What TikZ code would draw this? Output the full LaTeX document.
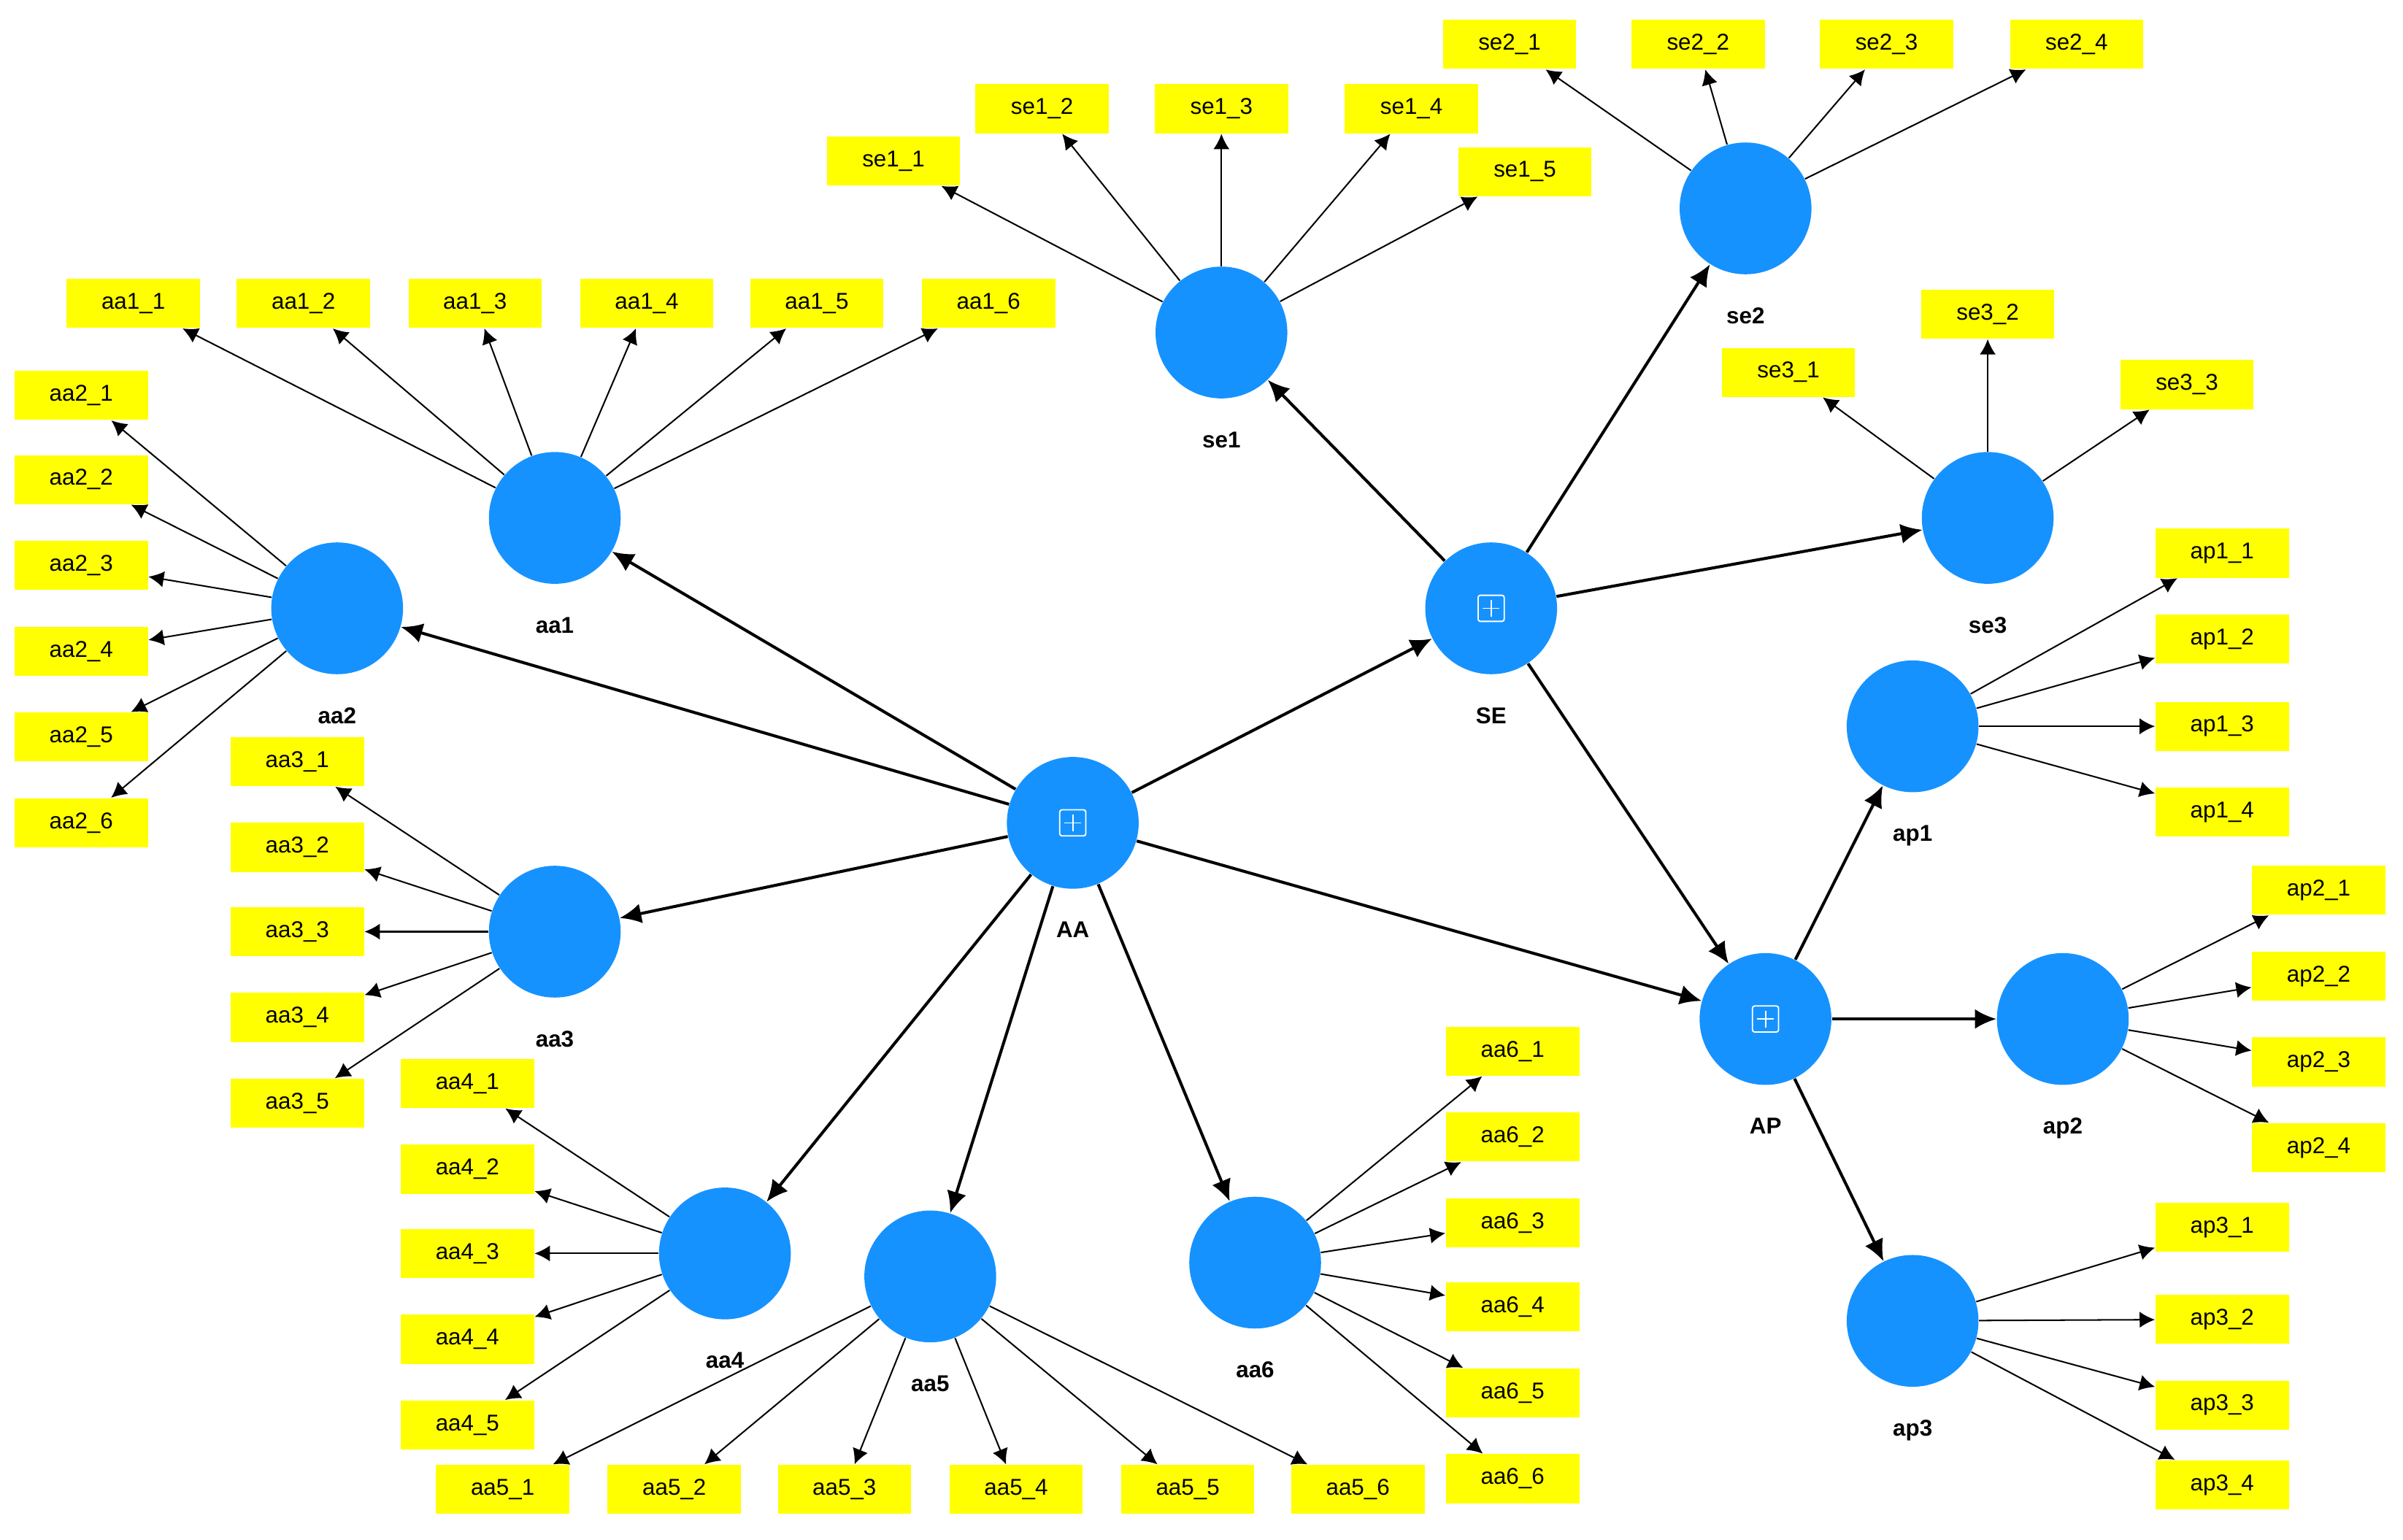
\documentclass[tikz,border=0pt]{standalone}
\usepackage{fontspec}
\setmainfont{Liberation Sans}
\usetikzlibrary{arrows.meta,positioning,calc}
\definecolor{LVblue}{RGB}{22,146,255}
\definecolor{MVyellow}{RGB}{255,255,0}
\tikzstyle{Blv}   = [circle, fill=LVblue, minimum size=1.72cm, inner sep=0pt]
\tikzstyle{Bname} = [inner sep=0pt, font=\fontsize{8.5}{10}\selectfont\bfseries]
\tikzstyle{Bmv}   = [rectangle, fill=MVyellow, minimum width=1.74cm,
                     minimum height=0.64cm, inner sep=0pt,
                     font=\fontsize{8.5}{10}\selectfont]
\tikzstyle{Bpath} = [-{Latex[length=2.8mm,width=2.6mm]}, line width=1.1pt]
\tikzstyle{Bload} = [-{Latex[length=2mm,width=2.1mm]}, line width=0.55pt]
\newcommand{\plusbox}[1]{%
  \draw[white, line width=0.5pt, rounded corners=0.8pt]
    ($(#1)+(-0.17cm,-0.17cm)$) rectangle ($(#1)+(0.17cm,0.17cm)$);
  \draw[white, line width=0.5pt]
    ($(#1)+(-0.11cm,0)$) -- ($(#1)+(0.11cm,0)$)
    ($(#1)+(0,-0.11cm)$) -- ($(#1)+(0,0.11cm)$);}

\begin{document}
\begin{tikzpicture}[x=0.2mm, y=-0.2mm]
  \useasboundingbox (0,0) rectangle (1568,1005);

  % latent variables
  \node[Blv] (AA)  at (700,537) {};
  \node[Blv] (SE)  at (973,397) {};
  \node[Blv] (AP)  at (1152,665) {};
  \node[Blv] (se1) at (797,217) {};
  \node[Blv] (se2) at (1139,136) {};
  \node[Blv] (se3) at (1297,338) {};
  \node[Blv] (aa1) at (362,338) {};
  \node[Blv] (aa2) at (220,397) {};
  \node[Blv] (aa3) at (362,608) {};
  \node[Blv] (aa4) at (473,818) {};
  \node[Blv] (aa5) at (607,833) {};
  \node[Blv] (aa6) at (819,824) {};
  \node[Blv] (ap1) at (1248,474) {};
  \node[Blv] (ap2) at (1346,665) {};
  \node[Blv] (ap3) at (1248,862) {};
  \plusbox{AA} \plusbox{SE} \plusbox{AP}

  \node[Bname, below=0.42cm of AA]  (AAn)  {AA};
  \node[Bname, below=0.42cm of SE]  (SEn)  {SE};
  \node[Bname, below=0.42cm of AP]  (APn)  {AP};
  \node[Bname, below=0.42cm of se1] (se1n) {se1};
  \node[Bname, below=0.42cm of se2] (se2n) {se2};
  \node[Bname, below=0.42cm of se3] (se3n) {se3};
  \node[Bname, below=0.42cm of aa1] (aa1n) {aa1};
  \node[Bname, below=0.42cm of aa2] (aa2n) {aa2};
  \node[Bname, below=0.42cm of aa3] (aa3n) {aa3};
  \node[Bname, below=0.42cm of aa4] (aa4n) {aa4};
  \node[Bname, below=0.42cm of aa5] (aa5n) {aa5};
  \node[Bname, below=0.42cm of aa6] (aa6n) {aa6};
  \node[Bname, below=0.42cm of ap1] (ap1n) {ap1};
  \node[Bname, below=0.42cm of ap2] (ap2n) {ap2};
  \node[Bname, below=0.42cm of ap3] (ap3n) {ap3};

  % indicators
  \node[Bmv] (se11) at (583,105) {se1\_1};
  \node[Bmv] (se12) at (680,71)  {se1\_2};
  \node[Bmv] (se13) at (797,71)  {se1\_3};
  \node[Bmv] (se14) at (921,71)  {se1\_4};
  \node[Bmv] (se15) at (995,112) {se1\_5};
  \node[Bmv] (se21) at (985,29)  {se2\_1};
  \node[Bmv] (se22) at (1108,29) {se2\_2};
  \node[Bmv] (se23) at (1231,29) {se2\_3};
  \node[Bmv] (se24) at (1355,29) {se2\_4};
  \node[Bmv] (se31) at (1167,243) {se3\_1};
  \node[Bmv] (se32) at (1297,205) {se3\_2};
  \node[Bmv] (se33) at (1427,251) {se3\_3};
  \node[Bmv] (aa11) at (87,198)  {aa1\_1};
  \node[Bmv] (aa12) at (198,198) {aa1\_2};
  \node[Bmv] (aa13) at (310,198) {aa1\_3};
  \node[Bmv] (aa14) at (422,198) {aa1\_4};
  \node[Bmv] (aa15) at (533,198) {aa1\_5};
  \node[Bmv] (aa16) at (645,198) {aa1\_6};
  \node[Bmv] (aa21) at (53,258) {aa2\_1};
  \node[Bmv] (aa22) at (53,313) {aa2\_2};
  \node[Bmv] (aa23) at (53,369) {aa2\_3};
  \node[Bmv] (aa24) at (53,425) {aa2\_4};
  \node[Bmv] (aa25) at (53,481) {aa2\_5};
  \node[Bmv] (aa26) at (53,537) {aa2\_6};
  \node[Bmv] (aa31) at (194,497) {aa3\_1};
  \node[Bmv] (aa32) at (194,553) {aa3\_2};
  \node[Bmv] (aa33) at (194,608) {aa3\_3};
  \node[Bmv] (aa34) at (194,664) {aa3\_4};
  \node[Bmv] (aa35) at (194,720) {aa3\_5};
  \node[Bmv] (aa41) at (305,707) {aa4\_1};
  \node[Bmv] (aa42) at (305,763) {aa4\_2};
  \node[Bmv] (aa43) at (305,818) {aa4\_3};
  \node[Bmv] (aa44) at (305,874) {aa4\_4};
  \node[Bmv] (aa45) at (305,930) {aa4\_5};
  \node[Bmv] (aa51) at (328,972) {aa5\_1};
  \node[Bmv] (aa52) at (440,972) {aa5\_2};
  \node[Bmv] (aa53) at (551,972) {aa5\_3};
  \node[Bmv] (aa54) at (663,972) {aa5\_4};
  \node[Bmv] (aa55) at (775,972) {aa5\_5};
  \node[Bmv] (aa56) at (886,972) {aa5\_6};
  \node[Bmv] (aa61) at (987,686) {aa6\_1};
  \node[Bmv] (aa62) at (987,742) {aa6\_2};
  \node[Bmv] (aa63) at (987,798) {aa6\_3};
  \node[Bmv] (aa64) at (987,853) {aa6\_4};
  \node[Bmv] (aa65) at (987,909) {aa6\_5};
  \node[Bmv] (aa66) at (987,965) {aa6\_6};
  \node[Bmv] (ap11) at (1450,361) {ap1\_1};
  \node[Bmv] (ap12) at (1450,417) {ap1\_2};
  \node[Bmv] (ap13) at (1450,474) {ap1\_3};
  \node[Bmv] (ap14) at (1450,530) {ap1\_4};
  \node[Bmv] (ap21) at (1513,581) {ap2\_1};
  \node[Bmv] (ap22) at (1513,637) {ap2\_2};
  \node[Bmv] (ap23) at (1513,693) {ap2\_3};
  \node[Bmv] (ap24) at (1513,749) {ap2\_4};
  \node[Bmv] (ap31) at (1450,801) {ap3\_1};
  \node[Bmv] (ap32) at (1450,861) {ap3\_2};
  \node[Bmv] (ap33) at (1450,917) {ap3\_3};
  \node[Bmv] (ap34) at (1450,969) {ap3\_4};

  % structural paths
  \draw[Bpath] (AA) -- (aa1);
  \draw[Bpath] (AA) -- (aa2);
  \draw[Bpath] (AA) -- (aa3);
  \draw[Bpath] (AA) -- (aa4);
  \draw[Bpath] (AA) -- (aa5);
  \draw[Bpath] (AA) -- (aa6);
  \draw[Bpath] (AA) -- (SE);
  \draw[Bpath] (AA) -- (AP);
  \draw[Bpath] (SE) -- (se1);
  \draw[Bpath] (SE) -- (se2);
  \draw[Bpath] (SE) -- (se3);
  \draw[Bpath] (SE) -- (AP);
  \draw[Bpath] (AP) -- (ap1);
  \draw[Bpath] (AP) -- (ap2);
  \draw[Bpath] (AP) -- (ap3);

  % loadings
  \draw[Bload] (se1) -- (se11);
  \draw[Bload] (se1) -- (se12);
  \draw[Bload] (se1) -- (se13);
  \draw[Bload] (se1) -- (se14);
  \draw[Bload] (se1) -- (se15);
  \draw[Bload] (se2) -- (se21);
  \draw[Bload] (se2) -- (se22);
  \draw[Bload] (se2) -- (se23);
  \draw[Bload] (se2) -- (se24);
  \draw[Bload] (se3) -- (se31);
  \draw[Bload] (se3) -- (se32);
  \draw[Bload] (se3) -- (se33);
  \draw[Bload] (aa1) -- (aa11);
  \draw[Bload] (aa1) -- (aa12);
  \draw[Bload] (aa1) -- (aa13);
  \draw[Bload] (aa1) -- (aa14);
  \draw[Bload] (aa1) -- (aa15);
  \draw[Bload] (aa1) -- (aa16);
  \draw[Bload] (aa2) -- (aa21);
  \draw[Bload] (aa2) -- (aa22);
  \draw[Bload] (aa2) -- (aa23);
  \draw[Bload] (aa2) -- (aa24);
  \draw[Bload] (aa2) -- (aa25);
  \draw[Bload] (aa2) -- (aa26);
  \draw[Bload] (aa3) -- (aa31);
  \draw[Bload] (aa3) -- (aa32);
  \draw[Bload] (aa3) -- (aa33);
  \draw[Bload] (aa3) -- (aa34);
  \draw[Bload] (aa3) -- (aa35);
  \draw[Bload] (aa4) -- (aa41);
  \draw[Bload] (aa4) -- (aa42);
  \draw[Bload] (aa4) -- (aa43);
  \draw[Bload] (aa4) -- (aa44);
  \draw[Bload] (aa4) -- (aa45);
  \draw[Bload] (aa5) -- (aa51);
  \draw[Bload] (aa5) -- (aa52);
  \draw[Bload] (aa5) -- (aa53);
  \draw[Bload] (aa5) -- (aa54);
  \draw[Bload] (aa5) -- (aa55);
  \draw[Bload] (aa5) -- (aa56);
  \draw[Bload] (aa6) -- (aa61);
  \draw[Bload] (aa6) -- (aa62);
  \draw[Bload] (aa6) -- (aa63);
  \draw[Bload] (aa6) -- (aa64);
  \draw[Bload] (aa6) -- (aa65);
  \draw[Bload] (aa6) -- (aa66);
  \draw[Bload] (ap1) -- (ap11);
  \draw[Bload] (ap1) -- (ap12);
  \draw[Bload] (ap1) -- (ap13);
  \draw[Bload] (ap1) -- (ap14);
  \draw[Bload] (ap2) -- (ap21);
  \draw[Bload] (ap2) -- (ap22);
  \draw[Bload] (ap2) -- (ap23);
  \draw[Bload] (ap2) -- (ap24);
  \draw[Bload] (ap3) -- (ap31);
  \draw[Bload] (ap3) -- (ap32);
  \draw[Bload] (ap3) -- (ap33);
  \draw[Bload] (ap3) -- (ap34);
\end{tikzpicture}
\end{document}
